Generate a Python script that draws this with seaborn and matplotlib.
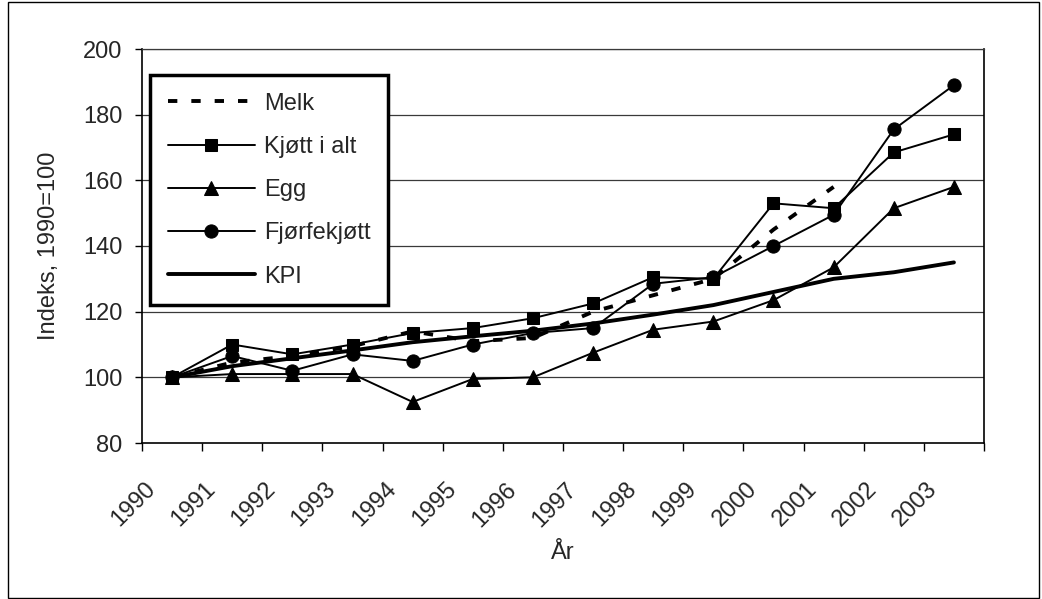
import numpy as np
import pandas as pd
import matplotlib
matplotlib.use("Agg")
import matplotlib.pyplot as plt
import matplotlib.transforms as mtransforms
import seaborn as sns

# data
years = ["1990", "1991", "1992", "1993", "1994", "1995", "1996",
         "1997", "1998", "1999", "2000", "2001", "2002", "2003"]
melk = [100, 104.5, 106.5, 109.5, 114, 111, 112, 120, 125, 130, 145, 158, np.nan, np.nan]
kjott = [100, 110, 107, 110, 113.5, 115, 118, 122.5, 130.5, 130, 153, 151.5, 168.5, 174]
egg = [100, 101, 101, 101, 92.5, 99.5, 100, 107.5, 114.5, 117, 123.5, 133.5, 151.5, 158]
fjorfe = [100, 106.5, 102, 107, 105, 110, 113.5, 115, 128.5, 130.5, 140, 149.5, 175.5, 189]
kpi = [100, 103.4, 105.8, 108.2, 110.7, 112.5, 114.2, 116.4, 119.1, 122, 126, 130, 132, 135]
yticks = [80, 100, 120, 140, 160, 180, 200]

sns.set_theme(style="white")
plt.rcParams["font.family"] = ["Liberation Sans", "DejaVu Sans"]
FS = 17

fig = plt.figure(figsize=(10.42, 5.99), dpi=100)
ax = fig.add_axes([142 / 1042, 1 - 443 / 599, 842 / 1042, 394 / 599])

pos = np.arange(len(years))
ax.grid(False)
for v in yticks[1:]:
    ax.axhline(v, color="#3a3a3a", lw=0.9, zorder=0)

sns.lineplot(x=pos, y=melk, ax=ax, color="black", lw=2.8, dashes=False,
             linestyle=(0, (2.4, 3.6)), label="Melk", estimator=None, sort=False)
sns.lineplot(x=pos, y=kjott, ax=ax, color="black", lw=1.4, marker="s", markersize=9,
             markeredgecolor="black", label="Kjøtt i alt", estimator=None, sort=False)
sns.lineplot(x=pos, y=egg, ax=ax, color="black", lw=1.4, marker="^", markersize=10,
             markeredgecolor="black", label="Egg", estimator=None, sort=False)
sns.lineplot(x=pos, y=fjorfe, ax=ax, color="black", lw=1.4, marker="o", markersize=9.5,
             markeredgecolor="black", label="Fjørfekjøtt", estimator=None, sort=False)
sns.lineplot(x=pos, y=kpi, ax=ax, color="black", lw=2.8, label="KPI",
             estimator=None, sort=False)

ax.set_xlim(-0.5, len(years) - 0.5)
ax.set_ylim(80, 200)
ax.set_yticks(yticks)
ax.set_yticklabels([str(v) for v in yticks])
ax.tick_params(axis="y", direction="out", length=5, width=1, color="black", pad=9,
               left=True, labelsize=FS)

ax.set_xticks(pos)
ax.set_xticks(np.arange(-0.5, len(years), 1.0), minor=True)
ax.set_xticklabels(years)
ax.tick_params(axis="x", which="major", length=0, pad=31, labelsize=FS)
ax.tick_params(axis="x", which="minor", direction="out", length=6, width=1,
               color="black", bottom=True)
shift = mtransforms.ScaledTranslation(-20 / 100, 0, fig.dpi_scale_trans)
for lab in ax.get_xticklabels():
    lab.set_rotation(45)
    lab.set_ha("right")
    lab.set_va("center")
    lab.set_rotation_mode("anchor")
    lab.set_transform(lab.get_transform() + shift)

for side in ["left", "bottom", "right", "top"]:
    ax.spines[side].set_visible(True)
    ax.spines[side].set_color("black")
    ax.spines[side].set_linewidth(1.2)
ax.spines["top"].set_linewidth(0.9)
ax.spines["top"].set_color("#3a3a3a")

ax.set_xlabel("År", fontsize=FS, labelpad=0)
ax.xaxis.set_label_coords(0.5, -(542 - 443) / 394)
ax.set_ylabel("Indeks, 1990=100", fontsize=FS)
ax.yaxis.set_label_coords(-(142 - 60) / 842, 0.5)

leg = ax.legend(loc="upper left", bbox_to_anchor=(8 / 842, (443 - 75) / 394),
                borderaxespad=0, fontsize=FS, frameon=True, fancybox=False,
                framealpha=1, edgecolor="black", handlelength=3.7,
                handletextpad=0.38, labelspacing=0.9, borderpad=0.75)
leg.get_frame().set_linewidth(2.5)

fig.patches.append(plt.Rectangle((8 / 1042, 1 / 599), 1031 / 1042, 596 / 599,
                                 transform=fig.transFigure, fill=False,
                                 edgecolor="black", lw=1))

fig.savefig("out.png", dpi=100)
